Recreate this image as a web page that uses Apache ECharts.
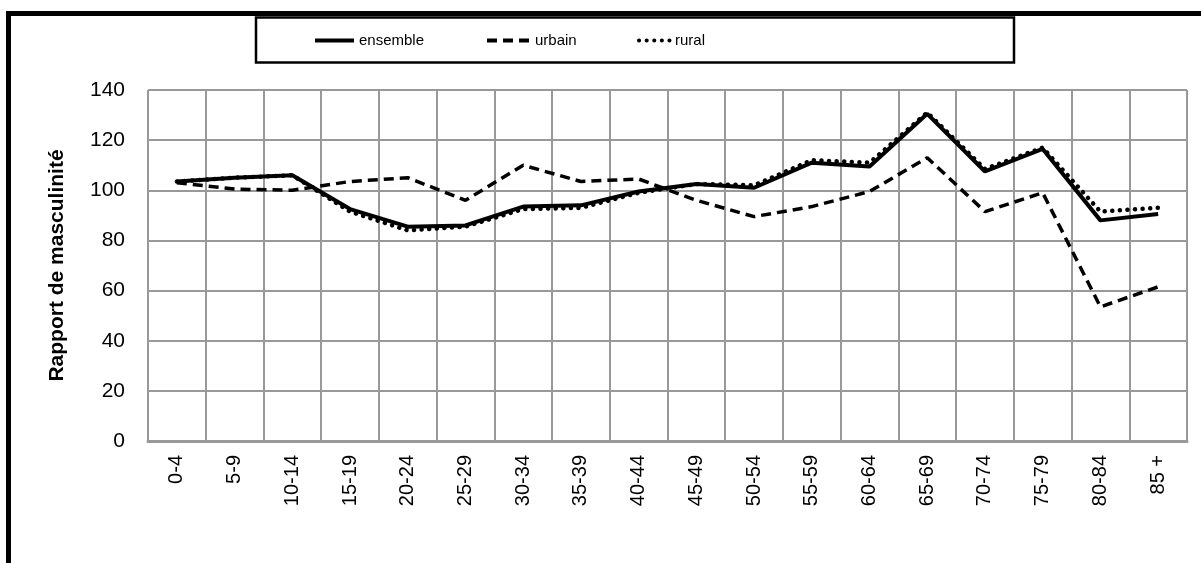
<!DOCTYPE html>
<html>
<head>
<meta charset="utf-8">
<script src="https://cdn.jsdelivr.net/npm/echarts@6/dist/echarts.min.js"></script>
<style>
  html, body { margin: 0; padding: 0; background: #fff; }
  #chart { width: 1201px; height: 563px; }
</style>
</head>
<body>
<div id="chart"></div>
<script>
// groupes d'âge
const categories = ['0-4', '5-9', '10-14', '15-19', '20-24', '25-29', '30-34', '35-39', '40-44',
  '45-49', '50-54', '55-59', '60-64', '65-69', '70-74', '75-79', '80-84', '85 +']

// rapport de masculinité par milieu
const ensemble = [103.5, 105, 106, 92.5, 85.5, 86, 93.5, 94, 99.5, 102.5, 101, 111, 109.5, 130.5, 107.5, 116.5, 88, 90.5]
const urbain = [103, 100.5, 100, 103.5, 105, 96, 110, 103.5, 104.5, 96, 89.5, 93.5, 99.5, 113, 91.5, 99, 53.5, 61.5]
const rural = [103.5, 105, 106, 91.5, 84, 85.5, 92.5, 93, 99, 102.5, 102, 112, 111, 131, 108.5, 117, 91.5, 93]

const yTicks = [0, 20, 40, 60, 80, 100, 120, 140]

const font = 'Liberation Sans'

// une légende par série pour placer chaque entrée
const legendItem = (name, left, width) => ({
  data: [name],
  top: 28,
  left: left - 5,
  itemWidth: width,
  itemHeight: 14,
  itemStyle: { opacity: 0, borderWidth: 0 },
  lineStyle: { width: 4 },
  textStyle: { fontFamily: font, fontSize: 15, color: '#000' },
  z: 5
})

const chart = echarts.init(document.getElementById('chart'))

chart.setOption({
  animation: false,
  backgroundColor: '#fff',
  graphic: [
    // cadre extérieur (coupé à droite et en bas)
    {
      type: 'polyline',
      shape: { points: [[8.5, 570], [8.5, 13.5], [1210, 13.5]] },
      style: { stroke: '#000', lineWidth: 5, fill: null },
      silent: true
    },
    // cadre de la légende
    {
      type: 'rect',
      shape: { x: 256, y: 17.5, width: 758, height: 45 },
      style: { stroke: '#000', lineWidth: 2.5, fill: '#fff' },
      silent: true,
      z: 0
    }
  ],
  legend: [
    legendItem('ensemble', 313, 39),
    legendItem('urbain', 485, 43),
    legendItem('rural', 637, 31)
  ],
  grid: {
    left: 148,
    right: 14,
    top: 90,
    bottom: 122
  },
  xAxis: {
    type: 'category',
    data: categories,
    boundaryGap: true,
    axisLine: { show: true, lineStyle: { color: '#999', width: 3 } },
    axisTick: { show: false },
    splitLine: { show: true, lineStyle: { color: '#999', width: 2 } },
    axisLabel: {
      rotate: 90,
      interval: 0,
      margin: 14,
      fontFamily: font,
      fontSize: 20,
      color: '#000'
    }
  },
  yAxis: {
    type: 'value',
    min: yTicks[0],
    max: yTicks[yTicks.length - 1],
    interval: 20,
    name: 'Rapport de masculinité',
    nameLocation: 'middle',
    nameRotate: 90,
    nameGap: 80,
    nameTextStyle: { fontFamily: font, fontSize: 21, fontWeight: 'bold', color: '#000' },
    axisLine: { show: false },
    axisTick: { show: false },
    splitLine: { show: true, lineStyle: { color: '#999', width: 2 } },
    axisLabel: {
      margin: 23,
      fontFamily: font,
      fontSize: 21,
      color: '#000'
    }
  },
  series: [
    {
      name: 'rural',
      type: 'line',
      data: rural,
      symbol: 'none',
      z: 3,
      lineStyle: { color: '#000', width: 4.5, type: [0.1, 7.5], cap: 'round' },
      itemStyle: { color: '#000' }
    },
    {
      name: 'ensemble',
      type: 'line',
      data: ensemble,
      symbol: 'none',
      z: 4,
      lineStyle: { color: '#000', width: 4 },
      itemStyle: { color: '#000' }
    },
    {
      name: 'urbain',
      type: 'line',
      data: urbain,
      symbol: 'none',
      z: 2,
      lineStyle: { color: '#000', width: 3.5, type: [10, 6] },
      itemStyle: { color: '#000' }
    }
  ]
})
</script>
</body>
</html>
